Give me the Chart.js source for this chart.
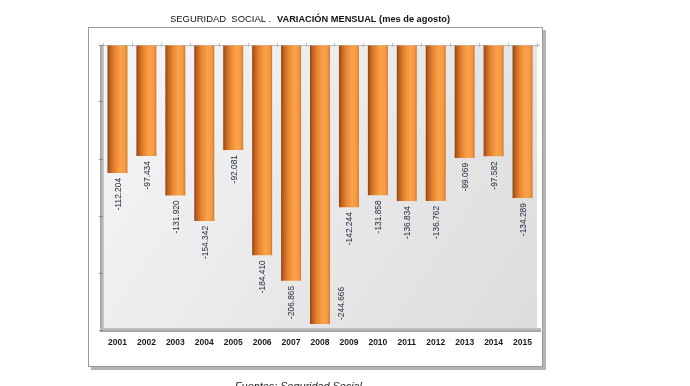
<!DOCTYPE html>
<html>
<head>
<meta charset="utf-8">
<script src="https://cdn.jsdelivr.net/npm/chart.js@4.4.0/dist/chart.umd.min.js"></script>
<style>
  html, body { margin: 0; padding: 0; background: #fff; }
  #wrap { width: 690px; height: 386px; position: relative; }
</style>
</head>
<body>
<div id="wrap"><canvas id="chart" width="690" height="386"></canvas></div>
<script>
const years = ['2001', '2002', '2003', '2004', '2005', '2006', '2007', '2008', '2009', '2010', '2011', '2012', '2013', '2014', '2015'];
const variacion = [-112204, -97434, -131920, -154342, -92081, -184410, -206865, -244666, -142244, -131858, -136834, -136762, -99069, -97582, -134289];
const yMin = -250000;
const yStep = 50000;

const titleA = 'SEGURIDAD  SOCIAL . ';
const titleB = 'VARIACIÓN MENSUAL (mes de agosto)';
const fuente = 'Fuentes: Seguridad Social';

function fmt(v) {
    const s = String(Math.abs(v)).replace(/\B(?=(\d{3})+(?!\d))/g, '.');
    return (v < 0 ? '-' : '') + s;
}

// fit a font size so the text spans the wanted width
function fitFont(ctx, text, style, family, target) {
    let size = 10;
    ctx.font = style + ' ' + size + 'px ' + family;
    const w = ctx.measureText(text).width;
    size = size * target / w;
    return style + ' ' + size.toFixed(2) + 'px ' + family;
}

function barFill(context) {
    const chart = context.chart;
    const xs = chart.scales.x;
    if (!xs || context.dataIndex === undefined) return '#f39a40';
    const cx = xs.getPixelForValue(context.dataIndex);
    const w = xs.width / years.length * 0.69;
    if (!Number.isFinite(cx) || !Number.isFinite(w) || w <= 0) return '#f39a40';
    const g = chart.ctx.createLinearGradient(cx - w / 2, 0, cx + w / 2, 0);
    g.addColorStop(0, '#8a4314');
    g.addColorStop(0.12, '#bd601f');
    g.addColorStop(0.35, '#e8842f');
    g.addColorStop(0.65, '#fba24c');
    g.addColorStop(0.88, '#f7993f');
    g.addColorStop(1, '#d27530');
    return g;
}

const decor = {
    id: 'decor',
    beforeDraw(chart) {
        const ctx = chart.ctx;
        const a = chart.chartArea;
        ctx.save();
        // outer frame with shadow
        ctx.fillStyle = '#b4b4b4';
        ctx.fillRect(91, 30, 455, 340);
        ctx.fillStyle = '#ffffff';
        ctx.fillRect(88, 27, 455, 340);
        ctx.strokeStyle = '#9a9a9a';
        ctx.lineWidth = 1;
        ctx.strokeRect(88.5, 27.5, 454, 339);

        // title
        ctx.fillStyle = '#111';
        ctx.textBaseline = 'middle';
        ctx.textAlign = 'left';
        ctx.font = fitFont(ctx, titleA, 'normal', '"Liberation Sans", Arial, sans-serif', 104);
        ctx.fillText(titleA, 170, 19);
        ctx.font = fitFont(ctx, titleB, 'bold', '"Liberation Sans", Arial, sans-serif', 173);
        ctx.fillText(titleB, 277, 19);

        // plot wall
        const bg = ctx.createLinearGradient(a.left, a.top, a.right, a.bottom);
        bg.addColorStop(0, '#f6f6f6');
        bg.addColorStop(0.5, '#e9e9e9');
        bg.addColorStop(1, '#dcdcdc');
        ctx.fillStyle = bg;
        ctx.fillRect(a.left, a.top, a.right - a.left, a.bottom - a.top);

        // left wall side
        const lw = ctx.createLinearGradient(a.left - 3, 0, a.left + 1, 0);
        lw.addColorStop(0, '#9c9c9c');
        lw.addColorStop(1, '#cfcfcf');
        ctx.fillStyle = lw;
        ctx.fillRect(a.left - 3, a.top, 4, a.bottom - a.top);

        // top edge
        ctx.strokeStyle = '#bdbdbd';
        ctx.beginPath();
        ctx.moveTo(a.left - 3, a.top + 0.5);
        ctx.lineTo(a.right + 3, a.top + 0.5);
        ctx.stroke();
        const xs = chart.scales.x;
        const step = xs.width / years.length;
        for (let i = 0; i <= years.length; i++) {
            const x = Math.round(a.left + i * step) + 0.5;
            ctx.beginPath();
            ctx.moveTo(x, a.top - 2);
            ctx.lineTo(x, a.top + 2);
            ctx.stroke();
        }

        // floor
        const fl = ctx.createLinearGradient(0, a.bottom - 2, 0, a.bottom + 2);
        fl.addColorStop(0, '#c8c8c8');
        fl.addColorStop(1, '#9e9e9e');
        ctx.fillStyle = fl;
        ctx.fillRect(a.left - 3, a.bottom - 2, a.right - a.left + 7, 4);

        // source
        ctx.fillStyle = '#222';
        ctx.textBaseline = 'alphabetic';
        ctx.font = fitFont(ctx, fuente, 'italic', '"Liberation Sans", Arial, sans-serif', 127);
        ctx.fillText(fuente, 235, 390);
        ctx.restore();
    },
    afterDatasetsDraw(chart) {
        const ctx = chart.ctx;
        const a = chart.chartArea;
        const meta = chart.getDatasetMeta(0);
        ctx.save();
        ctx.fillStyle = '#1b2638';
        ctx.font = '8.4px "Liberation Sans", Arial, sans-serif';
        ctx.textBaseline = 'middle';
        meta.data.forEach((el, i) => {
            const txt = fmt(variacion[i]);
            const tw = ctx.measureText(txt).width;
            ctx.save();
            if (el.y + 5 + tw > a.bottom - 3) {
                // no room below the bar: put it beside, ending near the bar end
                ctx.translate(el.x + 22, el.y - 4);
                ctx.rotate(-Math.PI / 2);
                ctx.textAlign = 'left';
            } else {
                ctx.translate(el.x + 1, el.y + 5);
                ctx.rotate(-Math.PI / 2);
                ctx.textAlign = 'right';
            }
            ctx.fillText(txt, 0, 0);
            ctx.restore();
        });
        ctx.restore();
    }
};

new Chart(document.getElementById('chart'), {
    type: 'bar',
    data: {
        labels: years,
        datasets: [{
            data: variacion,
            backgroundColor: barFill,
            borderWidth: 0,
            barPercentage: 0.69,
            categoryPercentage: 1
        }]
    },
    options: {
        responsive: false,
        animation: false,
        layout: { padding: { left: 98, right: 153, top: 45, bottom: 36 } },
        plugins: {
            legend: { display: false },
            title: { display: false },
            tooltip: { enabled: false }
        },
        scales: {
            x: {
                grid: { display: false, drawTicks: false },
                border: { display: false },
                ticks: {
                    color: '#1a1a1a',
                    font: { family: '"Liberation Sans", Arial, sans-serif', size: 8.5, weight: 'bold' },
                    padding: 8,
                    maxRotation: 0
                },
                afterFit(scale) { scale.height = 20; }
            },
            y: {
                min: yMin,
                max: 0,
                ticks: { display: false, stepSize: yStep },
                grid: { drawOnChartArea: false, drawTicks: true, tickLength: 4, color: '#8c8c8c' },
                border: { display: false },
                afterFit(scale) { scale.width = 5; }
            }
        }
    },
    plugins: [decor]
});
</script>
</body>
</html>
